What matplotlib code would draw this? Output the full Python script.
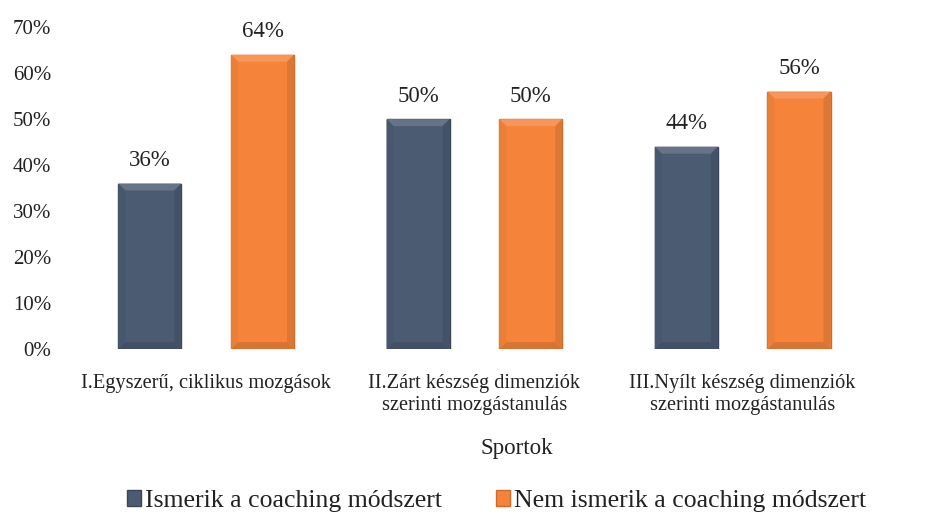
import matplotlib
matplotlib.use("Agg")
import matplotlib.pyplot as plt
import numpy as np
from matplotlib.ticker import PercentFormatter
from matplotlib.patches import Patch, Polygon
import matplotlib.colors as mcolors

categories = ["I.Egyszerű, ciklikus mozgások",
              "II.Zárt készség dimenziók\nszerinti mozgástanulás",
              "III.Nyílt készség dimenziók\nszerinti mozgástanulás"]
series_names = ["Ismerik a coaching módszert", "Nem ismerik a coaching módszert"]
ismerik = [36, 50, 44]
nem_ismerik = [64, 50, 56]
x_title = "Sportok"

plt.rcParams['font.family'] = ['Liberation Serif', 'DejaVu Serif']

fig = plt.figure(figsize=(9.49, 5.12), dpi=100)
ax = fig.add_axes([0.0759, 0.318, 0.848, 0.629])

x = np.arange(len(categories))
w = 0.235
off = 0.21
c1, e1 = "#4B5B72", "#3A4658"
c2, e2 = "#F5843A", "#D06A28"

ax.set_xlim(-0.5, 2.5)
ax.set_ylim(0, 70)

b1 = ax.bar(x - off, ismerik, w, color=c1, edgecolor=e1, linewidth=1.0, zorder=2)
b2 = ax.bar(x + off, nem_ismerik, w, color=c2, edgecolor=e2, linewidth=1.0, zorder=2)


def shade(c, f):
    r = np.array(mcolors.to_rgb(c))
    if f > 0:
        r = r + (1 - r) * f
    else:
        r = r * (1 + f)
    return tuple(np.clip(r, 0, 1))


# bevel effect, inset derived from axis scale (pixels -> data)
fig.canvas.draw()
bb = ax.get_window_extent()
px_x = (ax.get_xlim()[1] - ax.get_xlim()[0]) / bb.width
px_y = (ax.get_ylim()[1] - ax.get_ylim()[0]) / bb.height
bev = 7
dx, dy = bev * px_x, bev * px_y
for bars, col in ((b1, c1), (b2, c2)):
    for r in bars:
        x0, x1 = r.get_x(), r.get_x() + r.get_width()
        y0, y1 = 0, r.get_height()
        top = [(x0, y1), (x1, y1), (x1 - dx, y1 - dy), (x0 + dx, y1 - dy)]
        bot = [(x0, y0), (x1, y0), (x1 - dx, y0 + dy), (x0 + dx, y0 + dy)]
        left = [(x0, y0), (x0, y1), (x0 + dx, y1 - dy), (x0 + dx, y0 + dy)]
        right = [(x1, y0), (x1, y1), (x1 - dx, y1 - dy), (x1 - dx, y0 + dy)]
        for poly, f in ((top, 0.15), (bot, -0.12), (left, -0.04), (right, -0.10)):
            ax.add_patch(Polygon(poly, closed=True, facecolor=shade(col, f),
                                 edgecolor='none', zorder=3))

for bars, vals in ((b1, ismerik), (b2, nem_ismerik)):
    for r, v in zip(bars, vals):
        ax.annotate(f"{v}%", (r.get_x() + r.get_width() / 2, v),
                    xytext=(0, 9), textcoords="offset points",
                    ha="center", va="bottom", fontsize=16.5, color="#222222")

ax.set_yticks(np.arange(0, 71, 10))
ax.yaxis.set_major_formatter(PercentFormatter(decimals=0))
ax.set_xticks(x)
ax.set_xticklabels(categories, fontsize=14.7, linespacing=1.2)
ax.tick_params(axis='y', labelsize=15, length=0, pad=15, labelcolor="#222222")
ax.tick_params(axis='x', length=0, pad=18, labelcolor="#222222")
for s in ax.spines.values():
    s.set_visible(False)
ax.set_xlabel(x_title, fontsize=16.5, color="#222222")
ax.xaxis.set_label_coords(0.553, -0.275)

handles = [Patch(facecolor=c1, edgecolor=e1), Patch(facecolor=c2, edgecolor=e2)]
fig.legend(handles, series_names, loc="lower center", bbox_to_anchor=(0.523, -0.045),
           ncol=2, frameon=False, fontsize=18.5, handlelength=0.55, handleheight=0.55,
           handletextpad=0.15, columnspacing=2.1, labelcolor="#222222")

fig.savefig("out.png", dpi=100)
